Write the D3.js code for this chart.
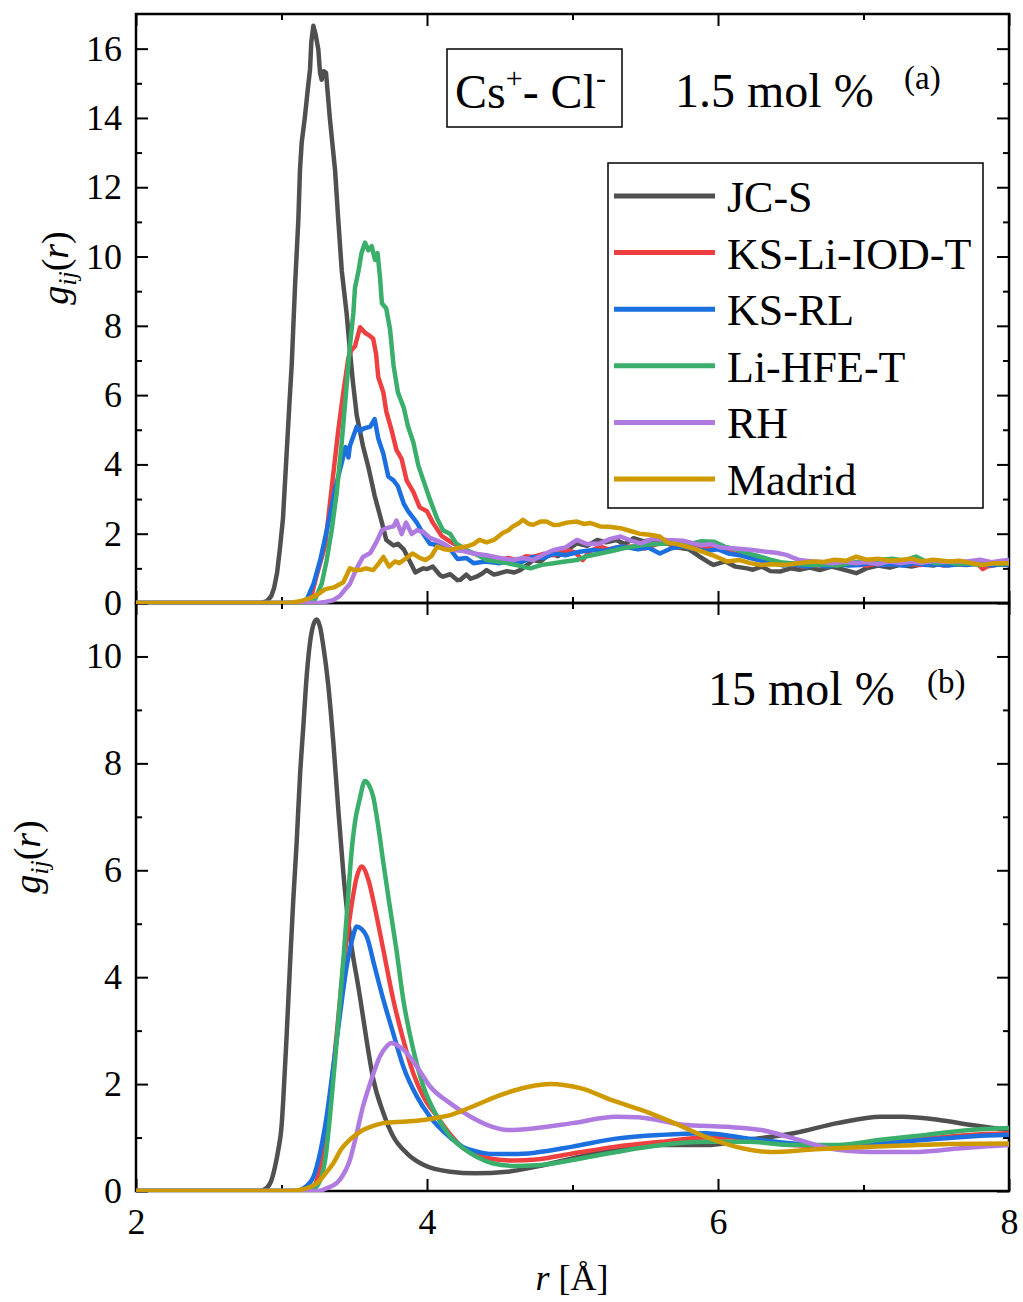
<!DOCTYPE html>
<html><head><meta charset="utf-8">
<script src="https://cdn.jsdelivr.net/npm/d3@7"></script>
<style>
body{margin:0;background:#fff}
svg{display:block}
text{font-family:"Liberation Serif","Times New Roman",serif;fill:#000}
</style></head>
<body><svg id="chart" width="1023" height="1302"></svg>
<script>
// ---------- data ----------
const seriesNames = ["JC-S","KS-Li-IOD-T","KS-RL","Li-HFE-T","RH","Madrid"];
const seriesColors = ["#505050","#ee4040","#1c6fdf","#3aae6b","#b07be0","#cf9a00"];
const xMajorTicks = [2,4,6,8];
const xMinorTicks = [3,5,7];
const yTopMajor = [0,2,4,6,8,10,12,14,16];
const yTopMinor = [1,3,5,7,9,11,13,15];
const yBotMajor = [0,2,4,6,8,10];
const yBotMinor = [1,3,5,7,9];
const topLabel = "1.5 mol %";
const botLabel = "15 mol %";

// panel (a): 1.5 mol %  [r, g(r)]
const jcsTop = [[2.0,0],[2.86,0],[2.9,0.05],[2.93,0.2],[2.95,0.45],[2.97,0.88],[2.99,1.6],[3.01,2.43],[3.035,4.3],[3.055,5.8],[3.07,6.86],[3.093,9.15],[3.116,11.07],[3.127,12.5],[3.139,13.3],[3.16,14.0],[3.18,14.8],[3.196,15.4],[3.205,16.2],[3.219,16.66],[3.235,16.4],[3.253,15.98],[3.265,15.3],[3.276,15.1],[3.29,15.35],[3.306,15.3],[3.333,13.96],[3.368,12.5],[3.39,11.07],[3.414,9.6],[3.448,8.34],[3.47,7.3],[3.49,6.41],[3.517,5.42],[3.56,4.53],[3.60,3.87],[3.64,3.10],[3.69,2.32],[3.72,1.82],[3.77,1.66],[3.80,1.71],[3.84,1.55],[3.88,1.22],[3.92,0.88],[3.95,0.95],[3.975,1.0],[4.0,0.98],[4.04,1.05],[4.09,0.8],[4.11,0.76],[4.16,0.83],[4.21,0.66],[4.23,0.67],[4.27,0.82],[4.3,0.7],[4.34,0.76],[4.38,0.85],[4.41,0.95],[4.46,0.82],[4.5,0.86],[4.55,0.92],[4.6,0.88],[4.64,0.95],[4.69,1.1],[4.73,1.24],[4.78,1.2],[4.85,1.43],[4.9,1.35],[4.95,1.5],[5.03,1.72],[5.1,1.65],[5.17,1.82],[5.23,1.75],[5.30,1.82],[5.36,1.7],[5.42,1.87],[5.49,1.78],[5.56,1.82],[5.65,1.78],[5.72,1.6],[5.8,1.55],[5.87,1.35],[5.945,1.15],[5.97,1.1],[6.05,1.2],[6.12,1.05],[6.2,1.0],[6.24,0.96],[6.3,1.05],[6.36,0.92],[6.43,0.91],[6.5,1.0],[6.56,0.96],[6.63,1.02],[6.7,0.95],[6.78,1.05],[6.85,0.98],[6.95,0.86],[7.02,1.0],[7.1,1.08],[7.18,1.02],[7.25,1.1],[7.33,1.05],[7.4,1.12],[7.48,1.08],[7.55,1.15],[7.63,1.1],[7.7,1.14],[7.78,1.12],[7.85,1.15],[7.93,1.1],[8.0,1.15]];
const iodTop = [[2.0,0],[3.15,0],[3.2,0.1],[3.24,0.77],[3.30,1.66],[3.345,3.32],[3.39,4.98],[3.425,6.08],[3.46,7.08],[3.48,7.3],[3.505,7.41],[3.54,7.96],[3.574,7.80],[3.597,7.74],[3.63,7.63],[3.65,7.19],[3.665,6.52],[3.70,6.08],[3.72,5.53],[3.757,4.98],[3.79,4.42],[3.826,4.15],[3.86,3.54],[3.906,3.21],[3.95,2.76],[4.0,2.65],[4.04,2.32],[4.1,1.94],[4.16,1.77],[4.21,1.66],[4.27,1.5],[4.32,1.43],[4.38,1.35],[4.45,1.28],[4.5,1.24],[4.56,1.3],[4.62,1.22],[4.68,1.35],[4.73,1.33],[4.8,1.42],[4.87,1.38],[4.96,1.53],[5.02,1.45],[5.07,1.24],[5.12,1.5],[5.19,1.63],[5.25,1.55],[5.32,1.62],[5.42,1.63],[5.5,1.58],[5.58,1.7],[5.65,1.72],[5.72,1.6],[5.8,1.65],[5.88,1.55],[5.97,1.6],[6.05,1.5],[6.12,1.42],[6.2,1.35],[6.28,1.3],[6.36,1.2],[6.43,1.12],[6.5,1.15],[6.58,1.05],[6.65,1.1],[6.72,1.08],[6.8,1.15],[6.88,1.1],[6.95,1.12],[7.02,1.08],[7.1,1.15],[7.18,1.1],[7.25,1.18],[7.33,1.12],[7.4,1.1],[7.48,1.15],[7.55,1.08],[7.63,1.12],[7.7,1.1],[7.78,1.15],[7.82,0.98],[7.85,1.05],[7.93,1.12],[8.0,1.1]];
const rlTop = [[2.0,0],[3.12,0],[3.173,0.1],[3.22,0.55],[3.265,1.22],[3.30,1.88],[3.333,2.54],[3.37,3.32],[3.41,3.98],[3.44,4.5],[3.46,4.2],[3.47,4.53],[3.517,5.09],[3.54,4.95],[3.56,5.03],[3.61,5.09],[3.64,5.31],[3.665,4.75],[3.70,4.31],[3.734,3.65],[3.77,3.54],[3.80,3.37],[3.84,2.87],[3.87,2.65],[3.93,2.32],[3.975,1.99],[4.02,1.71],[4.09,1.66],[4.16,1.55],[4.21,1.27],[4.27,1.3],[4.32,1.15],[4.4,1.2],[4.5,1.15],[4.58,1.22],[4.65,1.18],[4.73,1.33],[4.8,1.3],[4.88,1.43],[4.95,1.38],[5.05,1.48],[5.14,1.53],[5.22,1.5],[5.3,1.6],[5.35,1.63],[5.45,1.55],[5.52,1.6],[5.6,1.43],[5.68,1.58],[5.76,1.63],[5.85,1.55],[5.92,1.5],[6.0,1.55],[6.08,1.42],[6.15,1.38],[6.22,1.3],[6.3,1.22],[6.38,1.15],[6.45,1.08],[6.52,1.12],[6.6,1.05],[6.68,1.1],[6.75,1.05],[6.82,1.12],[6.9,1.08],[6.98,1.1],[7.05,1.15],[7.12,1.1],[7.2,1.12],[7.28,1.08],[7.35,1.15],[7.42,1.1],[7.5,1.12],[7.58,1.08],[7.65,1.12],[7.72,1.1],[7.8,1.15],[7.88,1.08],[7.95,1.12],[8.0,1.1]];
const hfeTop = [[2.0,0],[3.18,0],[3.23,0.1],[3.276,0.55],[3.31,1.22],[3.345,2.1],[3.38,3.2],[3.414,4.64],[3.448,6.3],[3.47,7.41],[3.494,8.37],[3.505,9.1],[3.53,9.6],[3.55,10.1],[3.574,10.4],[3.585,10.3],[3.597,10.18],[3.62,10.3],[3.643,9.9],[3.66,10.1],[3.677,9.4],[3.69,8.65],[3.72,8.5],[3.746,7.9],[3.77,6.86],[3.80,6.08],[3.84,5.64],[3.87,5.09],[3.906,4.64],[3.94,3.98],[3.975,3.54],[4.02,2.99],[4.07,2.43],[4.11,2.1],[4.16,1.99],[4.2,1.72],[4.27,1.53],[4.34,1.4],[4.41,1.24],[4.48,1.2],[4.55,1.15],[4.63,1.08],[4.71,1.0],[4.79,1.1],[4.87,1.15],[4.95,1.2],[5.03,1.24],[5.1,1.35],[5.19,1.43],[5.27,1.5],[5.35,1.58],[5.42,1.63],[5.5,1.68],[5.58,1.7],[5.65,1.72],[5.72,1.75],[5.8,1.7],[5.88,1.78],[5.97,1.77],[6.05,1.62],[6.12,1.55],[6.2,1.44],[6.28,1.35],[6.36,1.25],[6.43,1.18],[6.5,1.15],[6.58,1.12],[6.66,1.1],[6.74,1.12],[6.82,1.08],[6.9,1.15],[6.98,1.2],[7.05,1.18],[7.12,1.25],[7.2,1.28],[7.28,1.22],[7.36,1.34],[7.43,1.2],[7.5,1.15],[7.58,1.18],[7.65,1.12],[7.72,1.15],[7.8,1.1],[7.88,1.15],[7.95,1.12],[8.0,1.15]];
const rhTop = [[2.0,0],[3.25,0],[3.3,0.03],[3.356,0.08],[3.4,0.2],[3.425,0.33],[3.47,0.55],[3.517,1.0],[3.56,1.33],[3.61,1.44],[3.654,1.77],[3.69,2.1],[3.72,2.16],[3.77,2.21],[3.79,2.38],[3.826,1.99],[3.856,2.32],[3.895,1.99],[3.93,2.1],[3.975,2.05],[4.02,1.88],[4.07,1.8],[4.12,1.7],[4.18,1.53],[4.25,1.5],[4.32,1.43],[4.41,1.38],[4.5,1.3],[4.59,1.24],[4.66,1.3],[4.73,1.24],[4.8,1.4],[4.87,1.53],[4.95,1.6],[5.03,1.82],[5.1,1.7],[5.19,1.72],[5.26,1.85],[5.33,1.92],[5.4,1.8],[5.47,1.72],[5.55,1.85],[5.65,1.82],[5.76,1.8],[5.88,1.67],[5.95,1.7],[6.02,1.6],[6.1,1.58],[6.18,1.55],[6.25,1.52],[6.33,1.48],[6.4,1.45],[6.47,1.39],[6.52,1.3],[6.56,1.24],[6.65,1.2],[6.72,1.18],[6.79,1.15],[6.87,1.2],[6.95,1.15],[7.02,1.18],[7.1,1.12],[7.18,1.2],[7.25,1.15],[7.33,1.2],[7.4,1.15],[7.48,1.22],[7.55,1.18],[7.63,1.2],[7.71,1.2],[7.8,1.25],[7.88,1.18],[7.95,1.22],[8.0,1.24]];
const madTop = [[2.0,0],[3.05,0],[3.127,0.05],[3.2,0.15],[3.24,0.22],[3.3,0.4],[3.36,0.45],[3.425,0.6],[3.47,1.0],[3.5,0.95],[3.54,0.95],[3.58,1.0],[3.63,0.95],[3.67,1.15],[3.70,1.33],[3.74,1.05],[3.78,1.2],[3.81,1.15],[3.86,1.3],[3.90,1.43],[3.95,1.3],[3.99,1.24],[4.03,1.35],[4.07,1.63],[4.12,1.55],[4.16,1.53],[4.22,1.6],[4.27,1.63],[4.32,1.7],[4.36,1.82],[4.41,1.75],[4.46,1.82],[4.52,2.02],[4.56,2.1],[4.59,2.21],[4.63,2.3],[4.66,2.4],[4.7,2.28],[4.73,2.26],[4.78,2.35],[4.82,2.35],[4.87,2.25],[4.91,2.26],[4.96,2.32],[5.03,2.35],[5.08,2.28],[5.12,2.31],[5.19,2.21],[5.25,2.2],[5.33,2.16],[5.38,2.1],[5.46,2.0],[5.53,1.97],[5.6,1.92],[5.65,1.75],[5.72,1.7],[5.78,1.63],[5.85,1.55],[5.92,1.44],[5.98,1.35],[6.06,1.2],[6.15,1.24],[6.22,1.15],[6.29,1.1],[6.37,1.12],[6.47,1.1],[6.55,1.15],[6.65,1.2],[6.72,1.18],[6.8,1.25],[6.88,1.22],[6.95,1.34],[7.02,1.25],[7.1,1.28],[7.18,1.22],[7.25,1.24],[7.33,1.28],[7.4,1.2],[7.48,1.25],[7.59,1.2],[7.66,1.22],[7.74,1.15],[7.82,1.1],[7.9,1.15],[8.0,1.15]];

// panel (b): 15 mol %  [r, g(r)]
const jcsBot = [[2.0,0],[2.85,0],[2.9,0.06],[2.932,0.21],[2.955,0.45],[2.978,0.77],[3.0,1.2],[3.012,1.70],[3.036,2.95],[3.058,4.2],[3.081,5.45],[3.104,6.51],[3.127,7.76],[3.15,8.69],[3.173,9.63],[3.196,10.26],[3.22,10.6],[3.242,10.69],[3.265,10.55],[3.287,10.2],[3.32,9.5],[3.356,8.4],[3.39,7.15],[3.425,5.95],[3.45,5.25],[3.47,4.8],[3.494,4.35],[3.52,3.95],[3.54,3.62],[3.586,2.8],[3.63,2.1],[3.70,1.46],[3.768,1.02],[3.86,0.71],[3.975,0.49],[4.16,0.36],[4.33,0.33],[4.55,0.36],[4.76,0.46],[5.0,0.61],[5.3,0.80],[5.61,0.86],[5.91,0.86],[6.21,0.96],[6.52,1.08],[6.82,1.27],[7.12,1.39],[7.27,1.39],[7.52,1.33],[7.73,1.24],[8.0,1.14]];
const iodBot = [[2.0,0],[3.15,0],[3.22,0.08],[3.276,0.58],[3.333,1.70],[3.38,2.95],[3.425,4.2],[3.48,5.32],[3.515,5.85],[3.55,6.07],[3.597,5.82],[3.64,5.32],[3.70,4.51],[3.768,3.58],[3.837,2.83],[3.906,2.2],[3.975,1.77],[4.07,1.39],[4.16,1.06],[4.25,0.8],[4.34,0.68],[4.45,0.6],[4.6,0.57],[4.75,0.59],[5.0,0.70],[5.3,0.83],[5.61,0.92],[5.91,1.0],[6.1,1.0],[6.3,0.93],[6.52,0.86],[6.82,0.83],[7.12,0.89],[7.43,0.98],[7.73,1.05],[8.0,1.08]];
const rlBot = [[2.0,0],[3.1,0],[3.15,0.05],[3.22,0.27],[3.265,0.71],[3.31,1.39],[3.356,2.33],[3.40,3.26],[3.448,4.2],[3.49,4.75],[3.517,4.95],[3.55,4.9],[3.586,4.76],[3.64,4.2],[3.70,3.58],[3.768,2.95],[3.837,2.33],[3.93,1.77],[4.02,1.39],[4.16,1.0],[4.25,0.82],[4.34,0.74],[4.45,0.69],[4.6,0.69],[4.75,0.72],[5.0,0.83],[5.3,0.98],[5.61,1.05],[5.91,1.08],[6.21,0.98],[6.52,0.89],[6.82,0.83],[7.12,0.89],[7.43,0.96],[7.73,1.02],[8.0,1.05]];
const hfeBot = [[2.0,0],[3.15,0],[3.2,0.03],[3.24,0.08],[3.30,0.58],[3.333,1.4],[3.37,2.5],[3.40,3.5],[3.43,4.5],[3.455,5.4],[3.48,6.3],[3.505,6.9],[3.535,7.3],[3.574,7.67],[3.6,7.6],[3.63,7.38],[3.665,6.82],[3.70,6.14],[3.74,5.4],[3.79,4.51],[3.837,3.58],[3.906,2.64],[3.975,1.96],[4.07,1.39],[4.16,1.02],[4.25,0.8],[4.34,0.64],[4.45,0.52],[4.6,0.47],[4.75,0.48],[5.0,0.58],[5.3,0.73],[5.61,0.86],[5.91,0.92],[6.21,0.92],[6.52,0.86],[6.82,0.86],[7.12,0.96],[7.43,1.05],[7.73,1.14],[8.0,1.18]];
const rhBot = [[2.0,0],[3.25,0],[3.31,0.05],[3.40,0.21],[3.47,0.58],[3.517,1.08],[3.56,1.58],[3.61,2.02],[3.677,2.52],[3.72,2.7],[3.757,2.77],[3.8,2.72],[3.837,2.65],[3.93,2.33],[4.02,1.96],[4.16,1.64],[4.3,1.39],[4.45,1.2],[4.55,1.14],[4.73,1.17],[5.0,1.27],[5.3,1.39],[5.45,1.38],[5.76,1.24],[6.06,1.2],[6.3,1.14],[6.55,0.96],[6.76,0.80],[7.06,0.73],[7.37,0.73],[7.67,0.80],[8.0,0.86]];
const madBot = [[2.0,0],[3.05,0],[3.127,0.02],[3.2,0.08],[3.24,0.14],[3.3,0.32],[3.356,0.52],[3.41,0.78],[3.47,0.96],[3.52,1.07],[3.56,1.14],[3.63,1.22],[3.70,1.27],[3.86,1.30],[3.975,1.33],[4.07,1.37],[4.16,1.42],[4.24,1.5],[4.34,1.61],[4.48,1.77],[4.6,1.88],[4.70,1.95],[4.85,2.0],[4.95,1.98],[5.06,1.92],[5.27,1.70],[5.51,1.48],[5.70,1.27],[5.91,1.02],[6.12,0.83],[6.36,0.73],[6.67,0.78],[6.97,0.82],[7.27,0.85],[7.58,0.88],[8.0,0.89]];

const topSeries = [jcsTop, iodTop, rlTop, hfeTop, rhTop, madTop];
const botSeries = [jcsBot, iodBot, rlBot, hfeBot, rhBot, madBot];

// ---------- layout ----------
const svg = d3.select("#chart");
const L = 136, R = 1009, T = 14, M = 603, B = 1191;
const FONT = '"Liberation Serif","Times New Roman",serif';

const x = d3.scaleLinear().domain([2, 8]).range([L, R]);
const yTop = d3.scaleLinear().domain([0, 17]).range([M, T]);
const yBot = d3.scaleLinear().domain([0, 11]).range([B, M]);

function styleAxis(g) {
  g.select(".domain").remove();
  g.attr("font-family", FONT).attr("font-size", 36);
  g.selectAll(".tick line").attr("stroke", "#000").attr("stroke-width", 2);
  g.selectAll(".tick text").attr("fill", "#000");
}

function panel(y, yMajor, yMinor, top, bottom, showX) {
  svg.append("g").attr("transform", `translate(${L},0)`)
    .call(d3.axisLeft(y).tickValues(yMajor).tickSize(-12).tickPadding(14).tickFormat(d3.format("d"))).call(styleAxis);
  svg.append("g").attr("transform", `translate(${L},0)`)
    .call(d3.axisLeft(y).tickValues(yMinor).tickSize(-6).tickFormat("")).call(styleAxis);
  svg.append("g").attr("transform", `translate(${R},0)`)
    .call(d3.axisRight(y).tickValues(yMajor).tickSize(-12).tickFormat("")).call(styleAxis);
  svg.append("g").attr("transform", `translate(${R},0)`)
    .call(d3.axisRight(y).tickValues(yMinor).tickSize(-6).tickFormat("")).call(styleAxis);
  svg.append("g").attr("transform", `translate(0,${top})`)
    .call(d3.axisTop(x).tickValues(xMajorTicks).tickSize(-12).tickFormat("")).call(styleAxis);
  svg.append("g").attr("transform", `translate(0,${top})`)
    .call(d3.axisTop(x).tickValues(xMinorTicks).tickSize(-6).tickFormat("")).call(styleAxis);
  svg.append("g").attr("transform", `translate(0,${bottom})`)
    .call(d3.axisBottom(x).tickValues(xMajorTicks).tickSize(-12).tickPadding(17)
      .tickFormat(showX ? d3.format("d") : "")).call(styleAxis);
  svg.append("g").attr("transform", `translate(0,${bottom})`)
    .call(d3.axisBottom(x).tickValues(xMinorTicks).tickSize(-6).tickFormat("")).call(styleAxis);
}

function drawLines(series, y, clipId, top, bottom, curve) {
  svg.append("clipPath").attr("id", clipId).append("rect")
    .attr("x", L).attr("y", top).attr("width", R - L).attr("height", bottom - top + 1);
  const line = d3.line().x(d => x(d[0])).y(d => y(d[1])).curve(curve);
  const g = svg.append("g").attr("clip-path", `url(#${clipId})`);
  series.forEach((s, i) => {
    g.append("path").datum(s).attr("d", line)
      .attr("fill", "none").attr("stroke", seriesColors[i])
      .attr("stroke-width", 4.5).attr("stroke-linejoin", "round").attr("stroke-linecap", "round");
  });
}

svg.append("rect").attr("x", L).attr("y", T).attr("width", R - L).attr("height", M - T)
  .attr("fill", "none").attr("stroke", "#000").attr("stroke-width", 2.5);
svg.append("rect").attr("x", L).attr("y", M).attr("width", R - L).attr("height", B - M)
  .attr("fill", "none").attr("stroke", "#000").attr("stroke-width", 2.5);

panel(yTop, yTopMajor, yTopMinor, T, M, false);
panel(yBot, yBotMajor, yBotMinor, M, B, true);

drawLines(topSeries, yTop, "clipTop", T, M, d3.curveLinear);
drawLines(botSeries, yBot, "clipBot", M, B, d3.curveMonotoneX);

// legend
const lg = svg.append("g");
lg.append("rect").attr("x", 608).attr("y", 163).attr("width", 375).attr("height", 345)
  .attr("fill", "#fff").attr("stroke", "#000").attr("stroke-width", 1.5);
seriesNames.forEach((n, i) => {
  const yy = 196 + i * 56.6;
  lg.append("line").attr("x1", 614).attr("x2", 715).attr("y1", yy).attr("y2", yy)
    .attr("stroke", seriesColors[i]).attr("stroke-width", 5);
  lg.append("text").attr("x", 727).attr("y", yy + 16).attr("font-size", 44).text(n);
});

// ion pair box
svg.append("rect").attr("x", 447).attr("y", 49).attr("width", 175).attr("height", 78)
  .attr("fill", "none").attr("stroke", "#000").attr("stroke-width", 1.5);
const ion = svg.append("text").attr("x", 455).attr("y", 108).attr("font-size", 48);
ion.append("tspan").text("Cs");
ion.append("tspan").attr("dy", -20).attr("font-size", 30).text("+");
ion.append("tspan").attr("dy", 20).text("- Cl");
ion.append("tspan").attr("dy", -20).attr("font-size", 30).text("-");

// concentration labels
svg.append("text").attr("x", 675).attr("y", 107).attr("font-size", 48).text(topLabel);
svg.append("text").attr("x", 904).attr("y", 89).attr("font-size", 33).text("(a)");
svg.append("text").attr("x", 708).attr("y", 705).attr("font-size", 48).text(botLabel);
svg.append("text").attr("x", 927).attr("y", 693).attr("font-size", 33).text("(b)");

// y-axis labels
function yLabel(cx, cy) {
  const t = svg.append("text").attr("transform", `translate(${cx},${cy}) rotate(-90)`)
    .attr("text-anchor", "middle").attr("font-size", 38);
  t.append("tspan").attr("font-style", "italic").text("g");
  t.append("tspan").attr("font-style", "italic").attr("font-size", 26).attr("dy", 8).text("ij");
  t.append("tspan").attr("dy", -8).text("(");
  t.append("tspan").attr("font-style", "italic").text("r");
  t.append("tspan").text(")");
}
yLabel(68, 268);
yLabel(40, 857);

// x-axis label
const xl = svg.append("text").attr("x", 572).attr("y", 1290).attr("text-anchor", "middle").attr("font-size", 36);
xl.append("tspan").attr("font-style", "italic").text("r");
xl.append("tspan").text(" [Å]");
</script></body></html>
